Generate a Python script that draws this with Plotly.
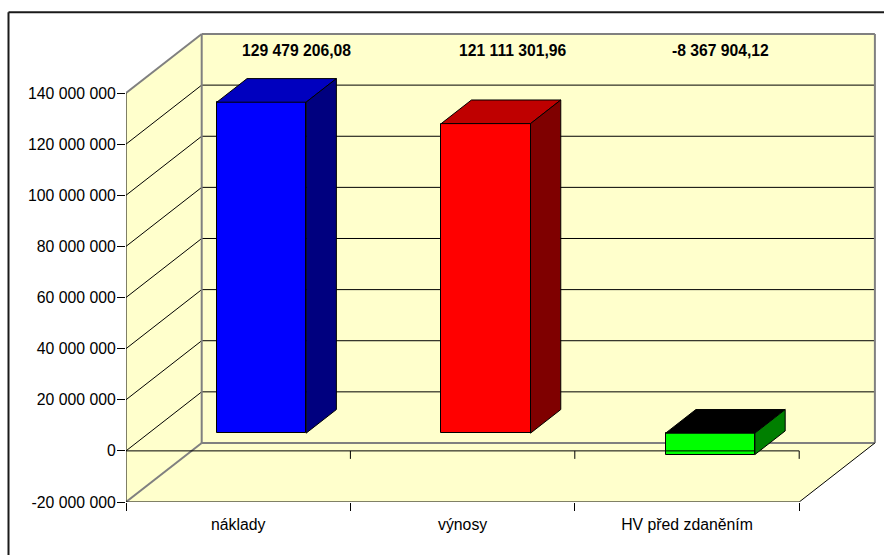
import plotly.graph_objects as go

categories = ["náklady", "výnosy", "HV před zdaněním"]
values = [129479206.08, 121111301.96, -8367904.12]
value_labels = ["129 479 206,08", "121 111 301,96", "-8 367 904,12"]
y_ticks = [-20000000, 0, 20000000, 40000000, 60000000, 80000000, 100000000, 120000000, 140000000]
y_tick_labels = ["-20 000 000", "0", "20 000 000", "40 000 000", "60 000 000",
                 "80 000 000", "100 000 000", "120 000 000", "140 000 000"]
front_colors = ["#0000FF", "#FF0000", "#00FF00"]
top_colors = ["#0000BF", "#BF0000", "#000000"]
side_colors = ["#00007F", "#7F0000", "#007F00"]
label_offsets = [0.26, 0.223, 0.15]   # manual placement of the value labels, category units

W, H = 884, 555
L, R, T, B = 126.0, 880.0, 30.0, 501.8
CAT_PX = 224.4
VAL_PX = 2.555e-6
DX = 75.7 / CAT_PX
DY = 59.0 / VAL_PX
BAR_W = 0.398
YMIN, YMAX = -20000000, 140000000
x0, x1 = -0.5, 2.5
xr = [x0, x0 + (R - L) / CAT_PX]
yr = [YMIN, YMIN + (B - T) / VAL_PX]
FONT = "Liberation Sans, Arial, sans-serif"
WALL = "#FFFFCC"
GRAY = "#808080"


def seg(xa, ya, xb, yb, color="black", width=1):
    return dict(type="line", x0=xa, y0=ya, x1=xb, y1=yb, xref="x", yref="y",
                line=dict(color=color, width=width), layer="below")


def poly(pts, fill):
    path = "M" + " L".join(f"{a},{b}" for a, b in pts) + " Z"
    return dict(type="path", path=path, xref="x", yref="y", fillcolor=fill,
                line=dict(width=0), layer="below")


shapes = [
    poly([(x0, YMIN), (x0 + DX, YMIN + DY), (x0 + DX, YMAX + DY), (x0, YMAX)], WALL),
    poly([(x0 + DX, YMIN + DY), (x1 + DX, YMIN + DY), (x1 + DX, YMAX + DY), (x0 + DX, YMAX + DY)], WALL),
    poly([(x0, YMIN), (x1, YMIN), (x1 + DX, YMIN + DY), (x0 + DX, YMIN + DY)], WALL),
]
for t in y_ticks:
    if t == YMIN or t == YMAX:
        continue
    shapes.append(seg(x0, t, x0 + DX, t + DY))
    shapes.append(seg(x0 + DX, t + DY, x1 + DX, t + DY))
shapes += [
    seg(x0 + DX, YMIN + DY, x0 + DX, YMAX + DY, GRAY, 2),
    seg(x1 + DX, YMIN + DY, x1 + DX, YMAX + DY, GRAY, 2),
    seg(x0 + DX, YMAX + DY, x1 + DX, YMAX + DY, GRAY, 2),
    seg(x0 + DX, YMIN + DY, x1 + DX, YMIN + DY, GRAY, 2),
    seg(x0, YMAX, x0 + DX, YMAX + DY, GRAY, 2),
    seg(x0, YMIN, x0 + DX, YMIN + DY, GRAY, 2),
    seg(x1, YMIN, x1 + DX, YMIN + DY),
]
for k in range(1, 4):
    shapes.append(seg(x0 + k, 0, x0 + k, -8 / VAL_PX))

# outer frame of the chart object: only top and left edges fall inside the window
fx = lambda px: (px - L) / (R - L)
fy = lambda py: (B - py) / (B - T)
for a, b, c, d in [(8.5, 12.3, W + 5, 12.3), (8.5, 12.3, 8.5, H + 5)]:
    shapes.append(dict(type="line", xref="paper", yref="paper", x0=fx(a), y0=fy(b), x1=fx(c), y1=fy(d),
                       line=dict(color="#1a1a1a", width=2), layer="above"))

fig = go.Figure()
bar_shift_x = 0.307 * DX
bar_shift_y = 0.3 * DY
depth_x = 0.4 * DX
depth_y = 0.4 * DY
cat_x = list(range(len(categories)))

fig.add_trace(go.Bar(
    x=[c + bar_shift_x for c in cat_x], y=values, base=[bar_shift_y] * 3, width=BAR_W,
    marker=dict(color=front_colors, line=dict(color="black", width=1)),
    hoverinfo="skip", showlegend=False))

# front-plane lines: zero line, bottom edge and value axis line
for xs, ys in [([x0, x1], [0, 0]), ([x0, x1], [YMIN, YMIN]), ([x0, x0], [YMIN, YMAX])]:
    fig.add_trace(go.Scatter(x=xs, y=ys, mode="lines", line=dict(color="black", width=1),
                             hoverinfo="skip", showlegend=False, cliponaxis=False))

for c, v, tc, sc in zip(cat_x, values, top_colors, side_colors):
    xl = c + bar_shift_x - BAR_W / 2
    xh = c + bar_shift_x + BAR_W / 2
    low = bar_shift_y + min(v, 0)
    high = bar_shift_y + max(v, 0)
    fig.add_trace(go.Scatter(
        x=[xl, xh, xh + depth_x, xl + depth_x, xl],
        y=[high, high, high + depth_y, high + depth_y, high],
        mode="lines", fill="toself", fillcolor=tc, line=dict(color="black", width=1),
        hoverinfo="skip", showlegend=False))
    fig.add_trace(go.Scatter(
        x=[xh, xh + depth_x, xh + depth_x, xh, xh],
        y=[high, high + depth_y, low + depth_y, low, high],
        mode="lines", fill="toself", fillcolor=sc, line=dict(color="black", width=1),
        hoverinfo="skip", showlegend=False))

LABEL_Y = (450.7 - 50) / 2.555 * 1e6
annotations = [
    dict(x=c + o, y=LABEL_Y, xref="x", yref="y", text=t, showarrow=False,
         font=dict(family=FONT, size=15.7, color="black", weight="bold"), xanchor="center", yanchor="middle")
    for c, o, t in zip(cat_x, label_offsets, value_labels)
]

fig.update_layout(
    width=W, height=H, paper_bgcolor="white", plot_bgcolor="rgba(0,0,0,0)",
    margin=dict(l=L, r=W - R, t=T, b=H - B, autoexpand=False),
    showlegend=False, shapes=shapes, annotations=annotations, bargap=0,
    xaxis=dict(range=xr, tickmode="array", tickvals=cat_x, ticktext=categories, showgrid=False,
               zeroline=False, showline=False, ticks="outside", ticklen=8, tickcolor="rgba(0,0,0,0)",
               tickfont=dict(family=FONT, size=15.8, color="black"), fixedrange=True,
               minor=dict(tickmode="array", tickvals=[x0 + k for k in range(4)], ticks="outside",
                          ticklen=8, tickcolor="black", tickwidth=1, showgrid=False)),
    yaxis=dict(range=yr, tickmode="array", tickvals=y_ticks, ticktext=y_tick_labels, showgrid=False,
               zeroline=False, showline=False, ticks="outside", ticklen=8, tickcolor="black",
               ticklabelstandoff=-2,
               tickfont=dict(family=FONT, size=15.8, color="black"), fixedrange=True),
)

fig.write_html("out.html", config=dict(displayModeBar=False),
               post_script="document.body.style.margin='0';document.documentElement.style.overflow='hidden';")
